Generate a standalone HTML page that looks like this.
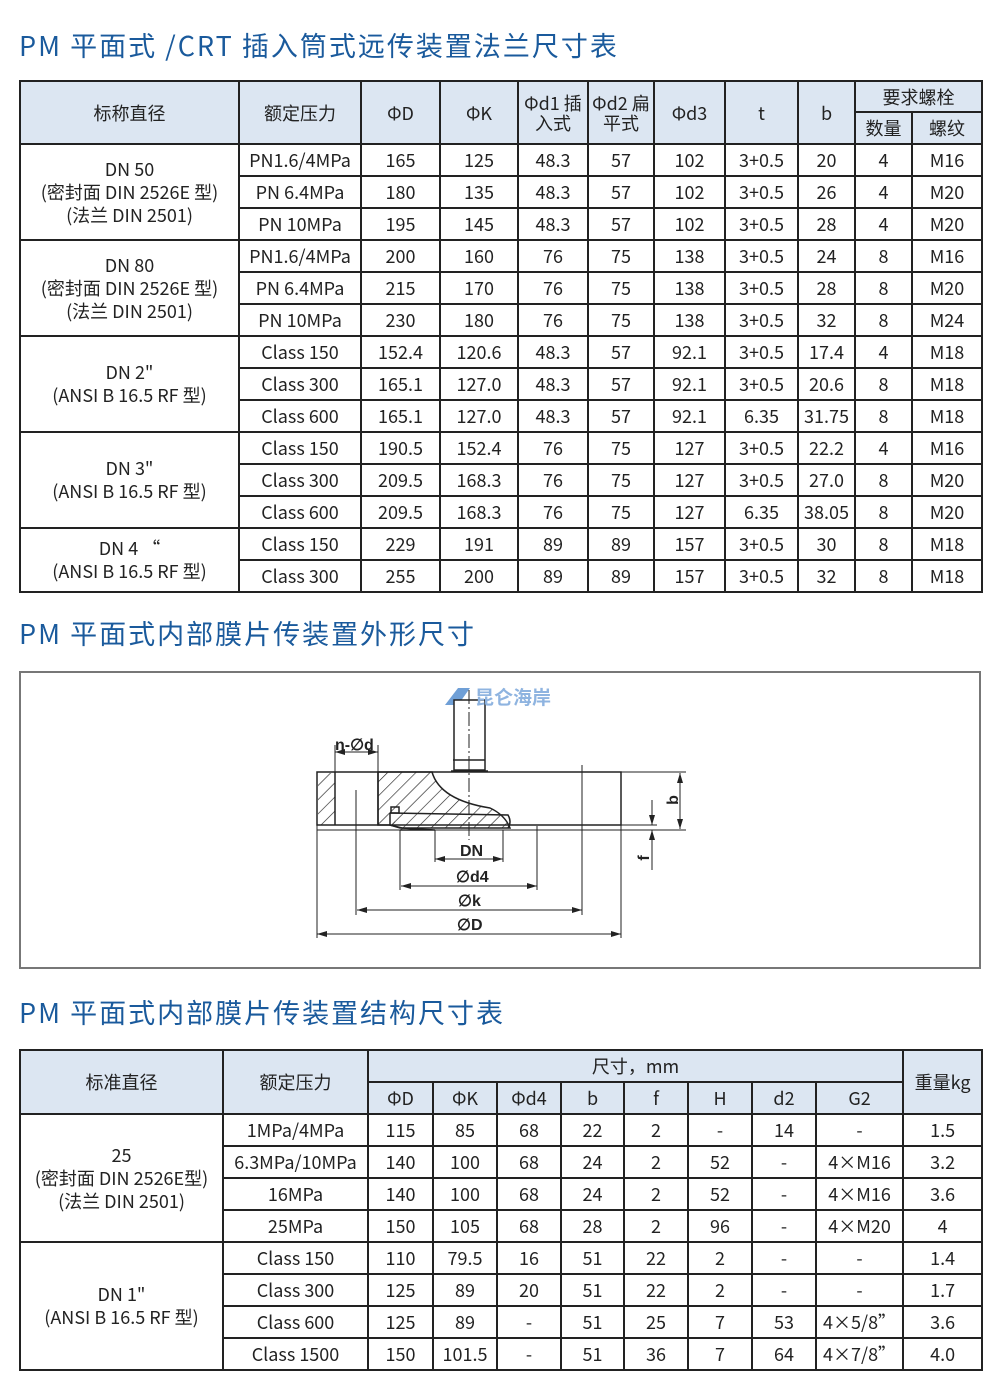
<!DOCTYPE html>
<html><head><meta charset="utf-8">
<style>
*{margin:0;padding:0;box-sizing:border-box}
body{width:1000px;height:1392px;background:#fff;position:relative;font-family:"Noto Sans CJK SC","Liberation Sans",sans-serif;color:#222}
.t{position:absolute;left:19px;font-size:27px;color:#1a5a9c;white-space:nowrap;letter-spacing:2px;line-height:34px}
table{position:absolute;left:19px;border-collapse:collapse;table-layout:fixed;width:962px}
td{border:2px solid #222;text-align:center;font-size:18px;height:32px;padding:0;line-height:20px;white-space:nowrap;overflow:hidden}
td.h{background:#dce6f2}
.box{position:absolute;left:19px;top:671px;width:962px;height:298px;border:2px solid #777}
</style></head><body>
<div class="t" style="top:28px">PM 平面式 /CRT 插入筒式远传装置法兰尺寸表</div>
<table style="top:80px">
<colgroup><col style="width:219px"><col style="width:122px"><col style="width:79px"><col style="width:78px"><col style="width:70px"><col style="width:66px"><col style="width:71px"><col style="width:73px"><col style="width:57px"><col style="width:57px"><col style="width:70px"></colgroup>
<tr><td class="h" rowspan="2" style="height:63px">标称直径</td><td class="h" rowspan="2">额定压力</td><td class="h" rowspan="2">ΦD</td><td class="h" rowspan="2">ΦK</td><td class="h" rowspan="2" style="white-space:normal">Φd1 插入式</td><td class="h" rowspan="2" style="white-space:normal">Φd2 扁平式</td><td class="h" rowspan="2">Φd3</td><td class="h" rowspan="2">t</td><td class="h" rowspan="2">b</td><td class="h" colspan="2" style="height:31px">要求螺栓</td></tr>
<tr><td class="h" style="height:32px">数量</td><td class="h">螺纹</td></tr>
<tr><td rowspan="3" style="line-height:23px">DN 50<br>(密封面 DIN 2526E 型)<br>(法兰 DIN 2501)</td><td>PN1.6/4MPa</td><td>165</td><td>125</td><td>48.3</td><td>57</td><td>102</td><td>3+0.5</td><td>20</td><td>4</td><td>M16</td></tr>
<tr><td>PN 6.4MPa</td><td>180</td><td>135</td><td>48.3</td><td>57</td><td>102</td><td>3+0.5</td><td>26</td><td>4</td><td>M20</td></tr>
<tr><td>PN 10MPa</td><td>195</td><td>145</td><td>48.3</td><td>57</td><td>102</td><td>3+0.5</td><td>28</td><td>4</td><td>M20</td></tr>
<tr><td rowspan="3" style="line-height:23px">DN 80<br>(密封面 DIN 2526E 型)<br>(法兰 DIN 2501)</td><td>PN1.6/4MPa</td><td>200</td><td>160</td><td>76</td><td>75</td><td>138</td><td>3+0.5</td><td>24</td><td>8</td><td>M16</td></tr>
<tr><td>PN 6.4MPa</td><td>215</td><td>170</td><td>76</td><td>75</td><td>138</td><td>3+0.5</td><td>28</td><td>8</td><td>M20</td></tr>
<tr><td>PN 10MPa</td><td>230</td><td>180</td><td>76</td><td>75</td><td>138</td><td>3+0.5</td><td>32</td><td>8</td><td>M24</td></tr>
<tr><td rowspan="3" style="line-height:23px">DN 2"<br>(ANSI B 16.5 RF 型)</td><td>Class 150</td><td>152.4</td><td>120.6</td><td>48.3</td><td>57</td><td>92.1</td><td>3+0.5</td><td>17.4</td><td>4</td><td>M18</td></tr>
<tr><td>Class 300</td><td>165.1</td><td>127.0</td><td>48.3</td><td>57</td><td>92.1</td><td>3+0.5</td><td>20.6</td><td>8</td><td>M18</td></tr>
<tr><td>Class 600</td><td>165.1</td><td>127.0</td><td>48.3</td><td>57</td><td>92.1</td><td>6.35</td><td>31.75</td><td>8</td><td>M18</td></tr>
<tr><td rowspan="3" style="line-height:23px">DN 3"<br>(ANSI B 16.5 RF 型)</td><td>Class 150</td><td>190.5</td><td>152.4</td><td>76</td><td>75</td><td>127</td><td>3+0.5</td><td>22.2</td><td>4</td><td>M16</td></tr>
<tr><td>Class 300</td><td>209.5</td><td>168.3</td><td>76</td><td>75</td><td>127</td><td>3+0.5</td><td>27.0</td><td>8</td><td>M20</td></tr>
<tr><td>Class 600</td><td>209.5</td><td>168.3</td><td>76</td><td>75</td><td>127</td><td>6.35</td><td>38.05</td><td>8</td><td>M20</td></tr>
<tr><td rowspan="2" style="line-height:23px">DN 4 “<br>(ANSI B 16.5 RF 型)</td><td>Class 150</td><td>229</td><td>191</td><td>89</td><td>89</td><td>157</td><td>3+0.5</td><td>30</td><td>8</td><td>M18</td></tr>
<tr><td>Class 300</td><td>255</td><td>200</td><td>89</td><td>89</td><td>157</td><td>3+0.5</td><td>32</td><td>8</td><td>M18</td></tr>
</table>

<div class="t" style="top:616px">PM 平面式内部膜片传装置外形尺寸</div>
<div class="box"></div>
<svg style="position:absolute;left:0;top:0" width="1000" height="1392" viewBox="0 0 1000 1392">
<defs>
<pattern id="hx" width="10" height="10" patternUnits="userSpaceOnUse" patternTransform="rotate(45)"><line x1="0" y1="0" x2="0" y2="10" stroke="#222" stroke-width="1.3"/></pattern>
<marker id="a" markerWidth="10" markerHeight="6" refX="10" refY="3" orient="auto-start-reverse"><path d="M0,0 L10,3 L0,6z" fill="#222"/></marker>
</defs>
<g stroke="#222" stroke-width="1.5" fill="none">
<path d="M445,705 L458,688 L470,688 L458,705z" fill="#6f9fd6" stroke="none"/>
<rect x="454" y="700" width="31" height="70" fill="#fff"/>
<line x1="453" y1="760" x2="485" y2="760"/>
<line x1="451" y1="771" x2="488" y2="771"/>
<rect x="317" y="772" width="304" height="53"/>
<line x1="317" y1="830" x2="621" y2="830" stroke-width="1"/>
<rect x="318" y="773" width="17" height="52" fill="url(#hx)" stroke="none"/>
<line x1="335" y1="772" x2="335" y2="825"/>
<line x1="378" y1="772" x2="378" y2="825"/>
<path d="M378,772 L432,772 Q440,800 490,808 Q505,815 510,828 L400,828 L390,825 L378,825z" fill="url(#hx)"/>
<path d="M390,813 L508,815 Q512,822 508,828" />
<path d="M390,813 L390,825 L402,828 L435,830 L400,830" fill="url(#hx)"/>
<rect x="391" y="807" width="8" height="6"/>
<line x1="400" y1="830" x2="400" y2="890" stroke-width="1"/>
<line x1="537" y1="826" x2="537" y2="890" stroke-width="1"/>
<line x1="435" y1="830" x2="435" y2="862" stroke-width="1"/>
<line x1="503" y1="830" x2="503" y2="862" stroke-width="1"/>
<line x1="356" y1="790" x2="356" y2="915" stroke-width="1"/>
<line x1="582" y1="765" x2="582" y2="915" stroke-width="1"/>
<line x1="317" y1="825" x2="317" y2="938" stroke-width="1"/>
<line x1="621" y1="825" x2="621" y2="938" stroke-width="1"/>
<line x1="469" y1="690" x2="469" y2="840" stroke-dasharray="14,3,2,3" stroke-width="1"/>
<line x1="335" y1="745" x2="335" y2="772" stroke-width="1"/>
<line x1="378" y1="745" x2="378" y2="772" stroke-width="1"/>
<line x1="335" y1="752" x2="378" y2="752" stroke-width="1" marker-start="url(#a)" marker-end="url(#a)"/>
<line x1="435" y1="859" x2="503" y2="859" stroke-width="1" marker-start="url(#a)" marker-end="url(#a)"/>
<line x1="401" y1="886" x2="537" y2="886" stroke-width="1" marker-start="url(#a)" marker-end="url(#a)"/>
<line x1="357" y1="910" x2="582" y2="910" stroke-width="1" marker-start="url(#a)" marker-end="url(#a)"/>
<line x1="317" y1="934" x2="621" y2="934" stroke-width="1" marker-start="url(#a)" marker-end="url(#a)"/>
<line x1="621" y1="772" x2="686" y2="772" stroke-width="1"/>
<line x1="621" y1="830" x2="686" y2="830" stroke-width="1"/>
<line x1="621" y1="825" x2="657" y2="825" stroke-width="1"/>
<line x1="680" y1="773" x2="680" y2="829" stroke-width="1" marker-start="url(#a)" marker-end="url(#a)"/>
<line x1="652" y1="800" x2="652" y2="825" stroke-width="1" marker-end="url(#a)"/>
<line x1="652" y1="870" x2="652" y2="830" stroke-width="1" marker-end="url(#a)"/>
</g>
<g font-family="Liberation Sans,sans-serif" font-weight="bold" font-size="16" fill="#222">
<text x="335" y="750">n-∅d</text>
<text x="460" y="856">DN</text>
<text x="456" y="882">∅d4</text>
<text x="458" y="906">∅k</text>
<text x="457" y="930">∅D</text>
<text x="678" y="800" transform="rotate(-90 678 800)" text-anchor="middle">b</text>
<text x="649" y="858" transform="rotate(-90 649 858)" text-anchor="middle">f</text>
</g>
<text x="475" y="704" font-family="Noto Sans CJK SC,sans-serif" font-size="19" fill="#8fb4e0" font-weight="bold">昆仑海岸</text>
</svg>

<div class="t" style="top:995px">PM 平面式内部膜片传装置结构尺寸表</div>
<table style="top:1049px">
<colgroup><col style="width:203px"><col style="width:145px"><col style="width:65px"><col style="width:64px"><col style="width:64px"><col style="width:63px"><col style="width:64px"><col style="width:64px"><col style="width:64px"><col style="width:87px"><col style="width:79px"></colgroup>
<tr><td class="h" rowspan="2">标准直径</td><td class="h" rowspan="2">额定压力</td><td class="h" colspan="8">尺寸，mm</td><td class="h" rowspan="2">重量kg</td></tr>
<tr><td class="h">ΦD</td><td class="h">ΦK</td><td class="h">Φd4</td><td class="h">b</td><td class="h">f</td><td class="h">H</td><td class="h">d2</td><td class="h">G2</td></tr>
<tr><td rowspan="4" style="line-height:23px">25<br>(密封面 DIN 2526E型)<br>(法兰 DIN 2501)</td><td>1MPa/4MPa</td><td>115</td><td>85</td><td>68</td><td>22</td><td>2</td><td>-</td><td>14</td><td>-</td><td>1.5</td></tr>
<tr><td>6.3MPa/10MPa</td><td>140</td><td>100</td><td>68</td><td>24</td><td>2</td><td>52</td><td>-</td><td>4×M16</td><td>3.2</td></tr>
<tr><td>16MPa</td><td>140</td><td>100</td><td>68</td><td>24</td><td>2</td><td>52</td><td>-</td><td>4×M16</td><td>3.6</td></tr>
<tr><td>25MPa</td><td>150</td><td>105</td><td>68</td><td>28</td><td>2</td><td>96</td><td>-</td><td>4×M20</td><td>4</td></tr>
<tr><td rowspan="4" style="line-height:23px">DN 1"<br>(ANSI B 16.5 RF 型)</td><td>Class 150</td><td>110</td><td>79.5</td><td>16</td><td>51</td><td>22</td><td>2</td><td>-</td><td>-</td><td>1.4</td></tr>
<tr><td>Class 300</td><td>125</td><td>89</td><td>20</td><td>51</td><td>22</td><td>2</td><td>-</td><td>-</td><td>1.7</td></tr>
<tr><td>Class 600</td><td>125</td><td>89</td><td>-</td><td>51</td><td>25</td><td>7</td><td>53</td><td>4×5/8”</td><td>3.6</td></tr>
<tr><td>Class 1500</td><td>150</td><td>101.5</td><td>-</td><td>51</td><td>36</td><td>7</td><td>64</td><td>4×7/8”</td><td>4.0</td></tr>
</table>
</body></html>
